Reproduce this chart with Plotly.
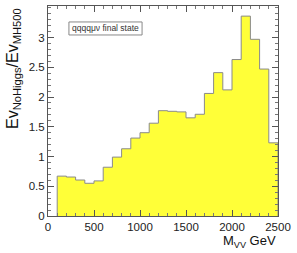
import plotly.graph_objects as go

# Bin edges (GeV) and ratio values
bin_edges = [100, 200, 300, 400, 500, 600, 700, 800, 900, 1000, 1100, 1200, 1300,
             1400, 1500, 1600, 1700, 1800, 1900, 2000, 2100, 2200, 2300, 2400, 2500]
ratio = [0.67, 0.655, 0.605, 0.55, 0.59, 0.82, 0.99, 1.13, 1.31, 1.40, 1.56, 1.77,
         1.76, 1.75, 1.65, 1.71, 2.06, 2.41, 2.12, 2.63, 3.36, 2.97, 2.47, 1.23]
x_ticks = [0, 500, 1000, 1500, 2000, 2500]
y_ticks = [0, 0.5, 1, 1.5, 2, 2.5, 3]
y_tick_text = ["0", "0.5", "1", "1.5", "2", "2.5", "3"]
legend_text = "qqqqμν final state"

xs = [bin_edges[0]] + bin_edges[:-1] + [bin_edges[-1], bin_edges[-1]]
ys = [0] + ratio + [ratio[-1], 0]

fig = go.Figure()
fig.add_trace(go.Scatter(
    x=xs, y=ys, mode="lines", line=dict(shape="hv", color="#8a8a8a", width=1),
    fill="tozeroy", fillcolor="#ffff38", showlegend=False, hoverinfo="skip"))

font = "Liberation Sans, Arial, sans-serif"
axis_common = dict(showgrid=False, zeroline=False, showline=True, linecolor="#555",
                   linewidth=1, mirror="allticks", ticks="inside", ticklen=6,
                   tickcolor="#555", tickfont=dict(family=font, size=11.5, color="#222"))
fig.update_xaxes(range=[0, 2500], tickvals=x_ticks, ticktext=[str(v) for v in x_ticks],
                 minor=dict(ticks="inside", ticklen=3, dtick=100, tick0=0, tickcolor="#777"),
                 **axis_common)
fig.update_yaxes(range=[0, 3.53], tickvals=y_ticks, ticktext=y_tick_text,
                 minor=dict(ticks="inside", ticklen=3, dtick=0.1, tick0=0, tickcolor="#777"),
                 **axis_common)

fig.add_annotation(xref="paper", yref="paper", x=-0.15, y=1.0, xanchor="center", yanchor="top",
                   text="Ev<sub>NoHiggs</sub>/Ev<sub>MH500</sub>", textangle=-90, showarrow=False,
                   font=dict(family=font, size=16, color="#111"))
fig.add_annotation(xref="paper", yref="paper", x=1.0, y=-0.07, xanchor="right", yanchor="top",
                   text="M<sub>VV</sub> GeV", showarrow=False,
                   font=dict(family=font, size=13, color="#111"))

fig.add_shape(type="rect", xref="paper", yref="paper", x0=0.091, x1=0.409, y0=0.862, y1=0.924,
              line=dict(color="#888", width=1), fillcolor="white")
fig.add_annotation(xref="paper", yref="paper", x=0.097, y=0.893, xanchor="left", yanchor="middle",
                   text=legend_text, showarrow=False,
                   font=dict(family=font, size=8.5, color="#333"))

fig.update_layout(width=297, height=253, margin=dict(l=48, r=19, t=6, b=37),
                  paper_bgcolor="white", plot_bgcolor="white")
fig.write_html("out.html", config={"displayModeBar": False},
               post_script="document.body.style.margin='0';document.body.style.overflow='hidden';")
